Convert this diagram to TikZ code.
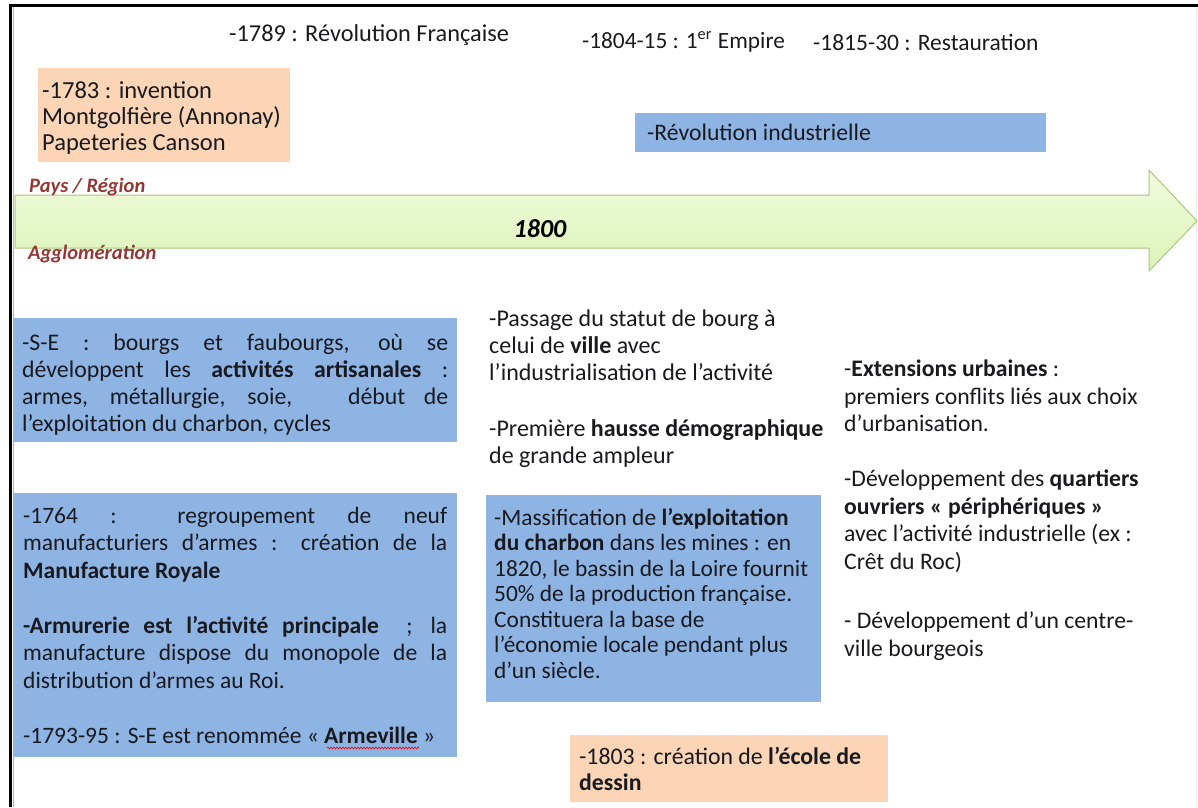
\documentclass[tikz,border=0pt]{standalone}
\usepackage{fontspec}
\setmainfont{Carlito}
\usetikzlibrary{positioning}
\usetikzlibrary{decorations.pathmorphing}
\definecolor{boxblue}{RGB}{142,180,227}
\definecolor{boxorange}{RGB}{251,213,181}
\definecolor{arrowtop}{RGB}{240,251,222}
\definecolor{arrowbottom}{RGB}{220,244,184}
\definecolor{arrowline}{RGB}{170,200,122}
\definecolor{levelred}{RGB}{149,55,53}
\definecolor{inktext}{RGB}{25,25,32}
% a justified line of fixed width
\newcommand{\spreadline}[2][426pt]{\leavevmode\hbox to #1{#2}}

\begin{document}
\begin{tikzpicture}[x=1pt,y=-1pt,
    every node/.style={text=inktext},
    datelabel/.style={anchor=west, inner sep=0pt, font=\fontsize{24}{28}\selectfont},
    levellabel/.style={anchor=west, inner sep=0pt, text=levelred, font=\fontsize{20.5}{23}\selectfont\bfseries\itshape},
    textbox/.style={anchor=north west, inner ysep=0pt, align=flush left},
    bluebox/.style={textbox, fill=boxblue},
    orangebox/.style={textbox, fill=boxorange},
    plaintext/.style={anchor=north west, inner sep=0pt, align=flush left, font=\fontsize{24}{27}\selectfont}]
    \useasboundingbox (0,0) rectangle (1198,807);
    % frame of the screenshot
    \draw[line width=3pt] (9,5) -- (1198,5);
    \draw[line width=3pt] (10,5) -- (10,807);
    \draw[gray!60, line width=0.8pt] (13.5,7) -- (13.5,807);
    \draw[blue!8, line width=1pt] (1196,7) -- (1196,807);

    % time line
    \shadedraw[top color=arrowtop, bottom color=arrowbottom, draw=arrowline, line width=1pt]
        (15,195) -- (1149,195) -- (1149,170) -- (1197,221) -- (1149,271) -- (1149,248) -- (15,248) -- cycle;
    \node[font=\fontsize{26}{30}\selectfont\bfseries\itshape, text=black] (year) at (540,229) {1800};
    \node[levellabel] (pays) at (29,187) {Pays / Région};
    \node[levellabel] (agglo) at (28,254) {Agglomération};

    % upper level
    \node[datelabel, font=\fontsize{24.3}{28}\selectfont] (revo) at (229,35) {-1789 : Révolution Française};
    \node[datelabel, font=\fontsize{23.3}{28}\selectfont] (empire) at (582,42) {-1804-15 : 1\textsuperscript{er}\hspace{6pt}Empire};
    \node[datelabel, font=\fontsize{23.5}{28}\selectfont] (restau) at (813,42) {-1815-30 : Restauration};
    \node[orangebox, inner xsep=4pt, text width=244pt, text height=30pt, text depth=64pt,
          font=\fontsize{24.5}{26}\selectfont] (montgolfiere) at (38,68)
        {-1783 : invention\\ Montgolfière (Annonay)\\ Papeteries Canson};
    \node[bluebox, inner xsep=12pt, text width=387pt, minimum height=39pt,
          font=\fontsize{23.7}{27}\selectfont] (industrie) at (635,113)
        {-Révolution industrielle};

    % lower level
    \node[bluebox, inner xsep=9pt, text width=426pt, text height=32pt, text depth=92pt,
          font=\fontsize{23.8}{27}\selectfont] (bourgs) at (13,318)
        {\spreadline{-S-E : bourgs et faubourgs, où se}\\
         \spreadline{développent les \textbf{activités artisanales} :}\\
         \spreadline{armes, métallurgie, soie,\ \ \ début de}\\
         l’exploitation du charbon, cycles};
    \node[bluebox, inner xsep=10pt, text width=424pt, text height=30pt, text depth=234pt,
          font=\fontsize{23.5}{27.5}\selectfont] (manufacture) at (13,493)
        {\spreadline[424pt]{-1764 : regroupement de neuf}\\
         \spreadline[424pt]{manufacturiers d’armes : création de la}\\
         \textbf{Manufacture Royale}\\[27.5pt]
         \spreadline[424pt]{\textbf{-Armurerie est l’activité principale}\ \ ; la}\\
         \spreadline[424pt]{manufacture dispose du monopole de la}\\
         distribution d’armes au Roi.\\[27.5pt]
         -1793-95 : S-E est renommée « \textbf{Armeville} »};
    \draw[red, line width=0.6pt, decorate, decoration={snake, amplitude=1pt, segment length=3pt}]
        (327,748) -- (419,748);

    \node[plaintext] (ville) at (489,310)
        {-Passage du statut de bourg à\\
         celui de \textbf{ville} avec\\
         l’industrialisation de l’activité\\[29pt]
         -Première \textbf{hausse démographique}\\
         de grande ampleur};
    \node[bluebox, inner xsep=8pt, text width=319pt, text height=30pt, text depth=177pt,
          font=\fontsize{23.4}{25.5}\selectfont] (charbon) at (486,495)
        {-Massification de \textbf{l’exploitation}\\
         \textbf{du charbon} dans les mines : en\\
         1820, le bassin de la Loire fournit\\
         50\% de la production française.\\
         Constituera la base de\\
         l’économie locale pendant plus\\
         d’un siècle.};
    \node[orangebox, inner xsep=9pt, text width=300pt, minimum height=67pt,
          font=\fontsize{23.8}{26}\selectfont] (dessin) at (570,735)
        {-1803 : création de \textbf{l’école de}\\ \textbf{dessin}};
    \node[plaintext, font=\fontsize{23.7}{27.5}\selectfont] (extensions) at (844,360)
        {-\textbf{Extensions urbaines} :\\
         premiers conflits liés aux choix\\
         d’urbanisation.\\[27.5pt]
         -Développement des \textbf{quartiers}\\
         \textbf{ouvriers « périphériques »}\\
         avec l’activité industrielle (ex :\\
         Crêt du Roc)\\[32pt]
         - Développement d’un centre-\\
         ville bourgeois};
\end{tikzpicture}
\end{document}
